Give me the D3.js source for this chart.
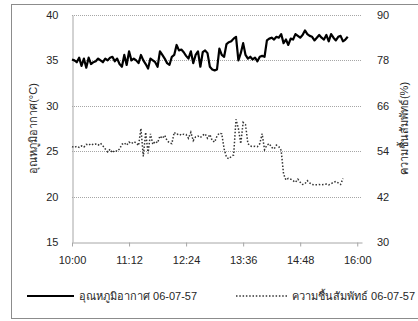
<!DOCTYPE html>
<html>
<head>
<meta charset="utf-8">
<script src="https://cdn.jsdelivr.net/npm/d3@7"></script>
<style>
  html, body { margin: 0; padding: 0; background: #fff; }
  svg { display: block; font-family: "Liberation Sans", Arial, sans-serif; }
</style>
</head>
<body>
<svg id="chart" width="418" height="321"></svg>
<script>
// Readings logged every 3 minutes on 06-07-57, starting at 10:00
const startClock = "10:00";
const stepMinutes = 3;

// Air temperature (°C)
const temperature = [
  35.1, 35.0, 34.8, 35.3, 34.4, 35.2, 34.2, 35.3, 34.6, 34.8,
  34.9, 35.2, 35.0, 34.8, 35.2, 35.0, 35.3, 35.4, 34.9, 35.2,
  34.6, 34.3, 35.6, 34.5, 36.0, 35.0, 35.2, 35.0, 34.7, 35.6,
  35.0, 34.6, 34.1, 35.2, 35.0, 34.8, 34.3, 36.0, 35.6, 35.2,
  34.7, 34.5, 35.4, 35.6, 36.7, 36.1, 36.2, 35.9, 35.5, 35.2,
  36.0, 34.7, 35.6, 36.0, 34.3, 35.9, 36.1, 35.8, 34.3, 34.0,
  33.9, 34.0, 36.3, 35.6, 35.4, 36.8, 37.0, 37.1, 37.4, 37.6,
  35.0, 35.8, 36.9, 35.6, 35.2, 35.4, 35.1, 35.3, 34.9, 35.4,
  35.5, 35.4, 37.2, 37.4, 37.5, 37.3, 37.6, 37.5, 37.9, 36.9,
  37.3, 36.7, 37.4, 37.3, 37.9, 37.7, 37.5, 37.8, 38.3, 37.9,
  37.7, 37.6, 37.2, 37.5, 37.8, 37.5, 37.3, 37.8, 37.1, 37.9,
  37.5, 37.2, 37.6, 37.7, 37.1, 37.3, 37.6
];

// Relative humidity (%)
const humidity = [
  55.2, 55.0, 55.3, 55.0, 55.4, 55.1, 55.8, 55.6, 56.0, 55.7,
  55.9, 55.6, 56.1, 55.4, 54.6, 53.8, 54.5, 53.6, 54.2, 54.0,
  54.6, 55.8, 56.2, 55.6, 56.4, 56.0, 56.5, 56.2, 55.5, 60.0,
  52.6, 59.0, 53.4, 58.6, 55.8, 56.6, 56.2, 58.0, 57.4, 58.2,
  56.8, 56.2, 56.0, 59.0, 58.4, 58.6, 58.2, 58.5, 58.4, 57.4,
  59.0, 56.8, 57.8, 58.0, 57.6, 58.2, 58.6, 57.4, 58.4, 56.8,
  56.4, 58.0, 58.8, 58.6, 54.6, 52.4, 52.0, 52.6, 53.0, 62.4,
  60.0, 56.0, 61.6, 61.0, 56.0, 55.4, 55.2, 55.3, 55.2, 56.0,
  58.6, 54.4, 55.6, 56.0, 55.0, 54.6, 55.6, 55.2, 54.2, 48.0,
  46.4, 46.8, 46.6, 46.2, 45.8, 46.6, 45.8, 45.2, 45.4, 46.2,
  45.6, 45.2, 45.1, 45.1, 45.2, 45.1, 45.2, 45.3, 45.1, 45.4,
  45.8, 46.0, 45.6, 45.2, 46.8
];

// Axis ticks
const tempTicks = [15, 20, 25, 30, 35, 40];
const humidityTicks = [30, 42, 54, 66, 78, 90];
const timeTicks = ["10:00", "11:12", "12:24", "13:36", "14:48", "16:00"];

// Titles and legend labels
const tempTitle = "อุณหภูมิอากาศ(°C)";
const humidityTitle = "ความชื้นสัมพัทธ์(%)";
const seriesNames = ["อุณหภูมิอากาศ 06-07-57", "ความชื้นสัมพัทธ์ 06-07-57"];

const parseClock = d3.timeParse("%Y-%m-%d %H:%M");
const clock = s => parseClock("2014-07-06 " + s);
const t0 = clock(startClock);
const timeAt = i => d3.timeMinute.offset(t0, i * stepMinutes);

const svg = d3.select("#chart");
const plot = { left: 72, right: 362, top: 15, bottom: 242 };
const textColor = "#262626";
const gridColor = "#a6a6a6";

// Outer chart frame
svg.append("rect")
  .attr("x", 11.5).attr("y", 4.5)
  .attr("width", 430).attr("height", 314)
  .attr("fill", "none").attr("stroke", "#8c8c8c").attr("stroke-width", 1);

const x = d3.scaleTime()
  .domain([t0, d3.timeMinute.offset(t0, 366)])
  .range([plot.left, plot.right]);
const yT = d3.scaleLinear().domain([15, 40]).range([plot.bottom, plot.top]);
const yH = d3.scaleLinear().domain([30, 90]).range([plot.bottom, plot.top]);

// Horizontal gridlines (dotted)
svg.append("g")
  .selectAll("line")
  .data(tempTicks.filter(d => d !== 15))
  .join("line")
  .attr("x1", plot.left).attr("x2", plot.right)
  .attr("y1", d => Math.round(yT(d)) + 0.5).attr("y2", d => Math.round(yT(d)) + 0.5)
  .attr("stroke", gridColor).attr("stroke-width", 1)
  .attr("stroke-dasharray", "1,1");

// Left value axis
const leftAxis = svg.append("g")
  .attr("transform", `translate(${plot.left + 0.5},0)`)
  .call(d3.axisLeft(yT).tickValues(tempTicks).tickSize(0).tickPadding(14));
leftAxis.select(".domain").attr("stroke", "#a6a6a6");
leftAxis.selectAll("text")
  .attr("fill", textColor).style("font-size", "11px");

// Right value axis (humidity)
const rightAxis = svg.append("g")
  .attr("transform", `translate(${plot.right},0)`)
  .call(d3.axisRight(yH).tickValues(humidityTicks).tickSize(0).tickPadding(15));
rightAxis.select(".domain").remove();
rightAxis.selectAll("text")
  .attr("fill", textColor).style("font-size", "11px");

// Time axis along the bottom
const bottomAxis = svg.append("g")
  .attr("transform", `translate(0,${plot.bottom + 0.5})`)
  .call(d3.axisBottom(x)
    .tickValues(timeTicks.map(clock))
    .tickFormat(d3.timeFormat("%H:%M"))
    .tickSize(4).tickSizeOuter(0).tickPadding(10));
bottomAxis.select(".domain").attr("stroke", "#a6a6a6");
bottomAxis.selectAll(".tick line").attr("stroke", "#a6a6a6");
bottomAxis.selectAll("text")
  .attr("fill", textColor).style("font-size", "11px");

// Axis titles
svg.append("text")
  .attr("transform", `translate(37,${(plot.top + plot.bottom) / 2}) rotate(-90)`)
  .attr("text-anchor", "middle")
  .attr("fill", textColor).style("font-size", "11px")
  .text(tempTitle);
svg.append("text")
  .attr("transform", `translate(408,${(plot.top + plot.bottom) / 2}) rotate(-90)`)
  .attr("text-anchor", "middle")
  .attr("fill", textColor).style("font-size", "11px")
  .text(humidityTitle);

// Series lines
const tempLine = d3.line()
  .x((d, i) => x(timeAt(i)))
  .y(d => yT(d));
const humLine = d3.line()
  .x((d, i) => x(timeAt(i)))
  .y(d => yH(d));

svg.append("path")
  .datum(humidity)
  .attr("d", humLine)
  .attr("fill", "none")
  .attr("stroke", "#333")
  .attr("stroke-width", 1.5)
  .attr("stroke-dasharray", "1.5,1.8");

svg.append("path")
  .datum(temperature)
  .attr("d", tempLine)
  .attr("fill", "none")
  .attr("stroke", "#000")
  .attr("stroke-width", 2.2)
  .attr("stroke-linejoin", "round");

// Legend
const legendY = 296;
const legend = [
  { name: seriesNames[0], x1: 27, x2: 74, tx: 79, dash: null, width: 2.2, color: "#000" },
  { name: seriesNames[1], x1: 236, x2: 287, tx: 292, dash: "1.5,1.8", width: 1.5, color: "#333" }
];
const lg = svg.append("g").selectAll("g").data(legend).join("g");
lg.append("line")
  .attr("x1", d => d.x1).attr("x2", d => d.x2)
  .attr("y1", legendY).attr("y2", legendY)
  .attr("stroke", d => d.color)
  .attr("stroke-width", d => d.width)
  .attr("stroke-dasharray", d => d.dash);
lg.append("text")
  .attr("x", d => d.tx).attr("y", legendY + 4)
  .attr("fill", textColor).style("font-size", "11px")
  .text(d => d.name);
</script>
</body>
</html>
